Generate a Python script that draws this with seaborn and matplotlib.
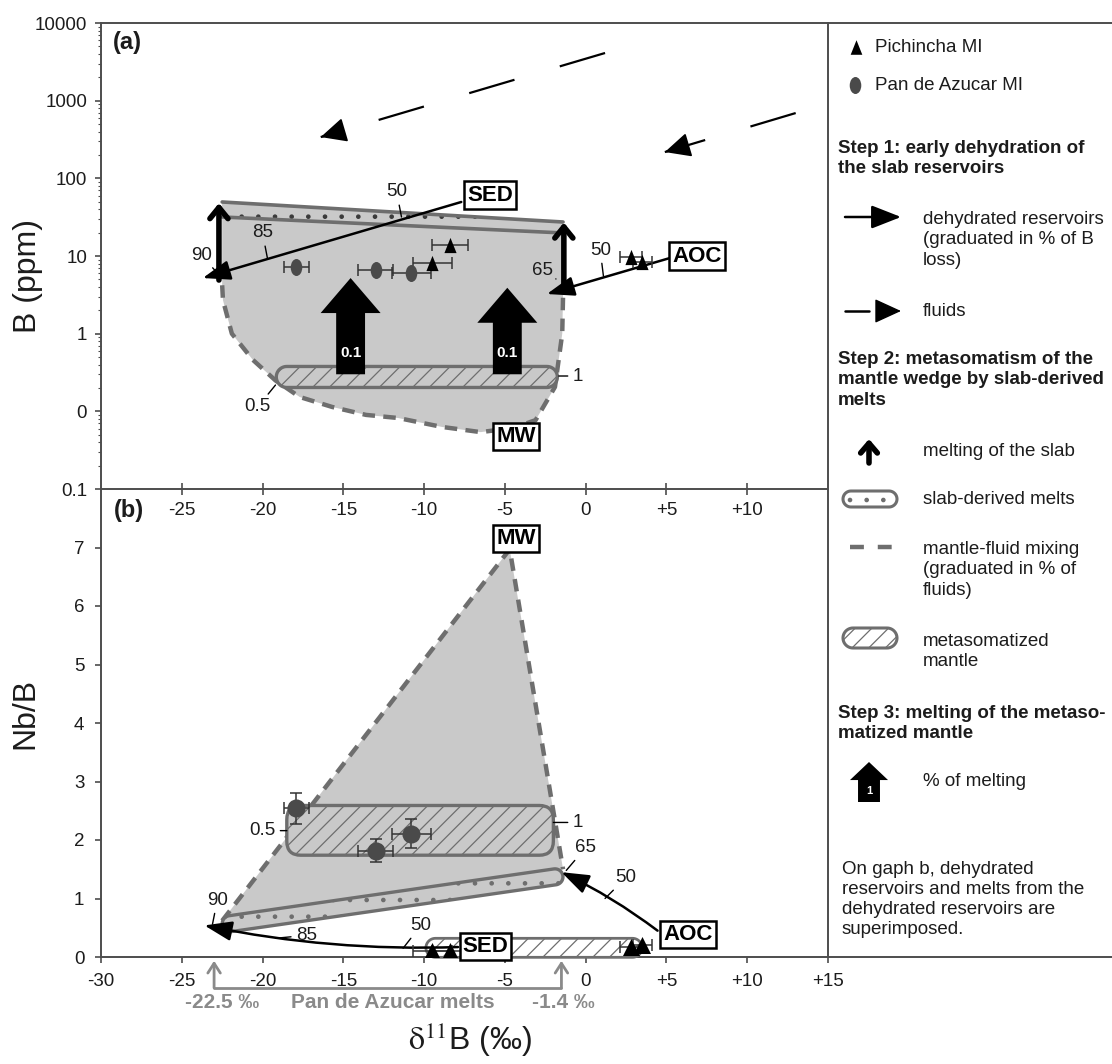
import numpy as np
import pandas as pd
import matplotlib
matplotlib.use("Agg")
import matplotlib.pyplot as plt
import seaborn as sns
from matplotlib.patches import FancyArrowPatch, FancyBboxPatch, Polygon
from matplotlib.transforms import IdentityTransform, Affine2D, blended_transform_factory
from matplotlib.markers import MarkerStyle
from matplotlib.ticker import LogLocator, NullFormatter

sns.set_theme(style="white")
plt.rcParams["font.family"] = ["Liberation Sans", "DejaVu Sans"]
plt.rcParams["lines.scale_dashes"] = False
plt.rcParams["hatch.linewidth"] = 0.9
plt.rcParams["mathtext.fontset"] = "stix"

# ---------------- data ----------------
d11b_ticks_a = [-25, -20, -15, -10, -5, 0, 5, 10]
d11b_ticks_b = [-30, -25, -20, -15, -10, -5, 0, 5, 10, 15]
b_ticks = [0.01, 0.1, 1, 10, 100, 1000, 10000]
b_tick_labels = ["0.1", "0", "1", "10", "100", "1000", "10000"]
nbb_ticks = [0, 1, 2, 3, 4, 5, 6, 7]

# melt inclusions
pich_d11b = [-9.5, -8.4, 2.8, 3.5]
pich_d11b_err = [1.2, 1.1, 0.7, 0.6]
pich_b = [8.1, 13.9, 9.7, 8.4]
pich_nbb = [0.11, 0.11, 0.17, 0.20]
pan_d11b = [-17.9, -13.0, -10.8]
pan_d11b_err = [0.8, 1.1, 1.2]
pan_b = [7.2, 6.6, 6.0]
pan_nbb = [2.54, 1.82, 2.11]
pan_nbb_err = [0.27, 0.20, 0.25]

melt_range = [-22.5, -1.4]          # Pan de Azucar melts, d11B
bracket_x = [-23.0, -1.5]

# panel a : model
slab_melt_top_a = [49.6, 27.4]
slab_melt_base_a = [31.8, 19.8]
slab_melting_x_a = [-22.7, -1.35]
slab_melting_from_a = [4.9, 3.65]
slab_melting_to_a = [48.0, 27.0]
mix_d11b_a = [-22.5, -22.45, -21.9, -20.6, -19.2, -17.7, -15.7, -13.6, -11.6,
              -8.9, -6.5, -4.5, -3.1, -1.9, -1.45, -1.4]
mix_b_a = [4.2, 2.7, 1.0, 0.46, 0.25, 0.153, 0.114, 0.09, 0.082,
           0.063, 0.054, 0.061, 0.077, 0.206, 1.0, 3.0]
meta_mantle_x_a = [-18.5, -2.4]
meta_mantle_b_a = 0.277
melting_pct_x_a = [-14.55, -4.85]
melting_pct_tail_a = 0.30
melting_pct_tip_a = [5.2, 3.9]
melting_pct_label_a = ["0.1", "0.1"]
sed_line_a = ([-7.7, -23.7], [49.6, 5.2])
aoc_line_a = ([5.2, -2.4], [9.4, 3.24])
fluid1_a = ([1.2, -16.4], [4110, 340])
fluid2_a = ([13.0, 4.9], [693, 218])
boxes_a = [("SED", -5.9, 61), ("AOC", 6.9, 10.0), ("MW", -4.3, 0.047)]
marks_a = [("50", -11.7, 66.7, -11.4, 31.8), ("85", -20.0, 19.8, -19.7, 9.4),
           ("90", -23.8, 10.3, -22.85, 6.2), ("50", 0.9, 11.9, 1.1, 5.5),
           ("65", -2.7, 6.6, -1.84, 5.06), ("0.5", -20.3, 0.114, -19.2, 0.218),
           ("1", -0.5, 0.285, -1.66, 0.285)]

# panel b : model
mw_b = (-4.7, 6.97)
mix_left_b = (-22.5, 0.62)
mix_right_b = (-1.4, 1.5)
slab_melt_x_b = [-22.0, -1.9]
slab_melt_y_b = [0.57, 1.37]
meta_mantle_x_b = [-18.5, -2.0]
meta_mantle_y_b = [1.74, 2.59]
dehy_melt_x_b = [-9.3, 2.9]
dehy_melt_y_b = 0.157
sed_line_b = ([-7.9, -23.6], [0.17, 0.54])
aoc_line_b = ([4.45, -1.5], [0.45, 1.45])
boxes_b = [("SED", -6.2, 0.18), ("AOC", 6.35, 0.39), ("MW", -4.3, 7.16)]
marks_b = [("90", -22.8, 0.97, -23.1, 0.56), ("85", -17.3, 0.37, -19.2, 0.32),
           ("50", -10.2, 0.54, -11.3, 0.15), ("50", 2.5, 1.36, 1.2, 1.0),
           ("65", 0.0, 1.87, -1.2, 1.48), ("0.5", -20.0, 2.16, -18.5, 2.16),
           ("1", -0.5, 2.30, -2.0, 2.30)]

# ---------------- style ----------------
FILL = "#c9c9c9"
EDGE = "#6e6e6e"
AXIS = "#4d4d4d"
TXT = "#1c1c1c"
BRK = "#8a8a8a"
MI_GREY = "#4a4a4a"
tri_marker = MarkerStyle("^", transform=Affine2D().scale(0.8, 1.0))
ell_marker = MarkerStyle("o", transform=Affine2D().scale(0.68, 1.0))

W, H = 1112, 1064
fig = plt.figure(figsize=(W / 100, H / 100), dpi=100)


def px_axes(x0, y0, x1, y1):
    return fig.add_axes([x0 / W, 1 - y1 / H, (x1 - x0) / W, (y1 - y0) / H])


ax_a = px_axes(101, 23, 828, 489)
ax_b = px_axes(101, 489, 828, 957)
ax_l = px_axes(828, 23, 1112, 957)

for ax in (ax_a, ax_b, ax_l):
    for s in ax.spines.values():
        s.set_color(AXIS)
        s.set_linewidth(1.4)
    ax.spines["right"].set_visible(False)
ax_b.spines["top"].set_visible(False)
ax_b.patch.set_visible(False)


def sign_lab(v):
    return "0" if v == 0 else f"{v:+d}"


ax_a.set_yscale("log")
ax_a.set_xlim(-30, 15)
ax_a.set_ylim(b_ticks[0], b_ticks[-1])
ax_a.set_xticks(d11b_ticks_a, [sign_lab(v) for v in d11b_ticks_a])
ax_a.set_yticks(b_ticks, b_tick_labels)
ax_a.yaxis.set_minor_locator(LogLocator(base=10, subs=np.arange(2, 10)))
ax_a.yaxis.set_minor_formatter(NullFormatter())
ax_a.tick_params(axis="x", direction="inout", length=8, width=1.2, color=AXIS,
                 labelcolor=TXT, labelsize=13.5, pad=5.5, bottom=True)
ax_a.tick_params(axis="y", which="major", direction="out", length=4, width=1.2,
                 color=AXIS, labelcolor=TXT, labelsize=13.5, pad=6, left=True)
ax_a.tick_params(axis="y", which="minor", direction="out", length=2.5, width=0.8,
                 color=AXIS, left=True)

ax_b.set_xlim(-30, 15)
ax_b.set_ylim(0, 8)
ax_b.set_xticks(d11b_ticks_b, [sign_lab(v) for v in d11b_ticks_b])
ax_b.set_yticks(nbb_ticks)
ax_b.tick_params(axis="both", direction="out", length=4, width=1.2, color=AXIS,
                 labelcolor=TXT, labelsize=13.5, bottom=True, left=True)
ax_b.tick_params(axis="x", pad=7.5)
ax_b.tick_params(axis="y", pad=8)

ax_l.set_xlim(0, 284)
ax_l.set_ylim(934, 0)
ax_l.set_xticks([])
ax_l.set_yticks([])


# ---------------- helpers ----------------
def capsule(ax, p0, p1, r, **kw):
    a = ax.transData.transform(p0)
    b = ax.transData.transform(p1)
    ang = np.arctan2(b[1] - a[1], b[0] - a[0])
    ta = np.linspace(ang + np.pi / 2, ang + 3 * np.pi / 2, 24)
    tb = np.linspace(ang - np.pi / 2, ang + np.pi / 2, 24)
    pts = np.vstack([a + r * np.column_stack([np.cos(ta), np.sin(ta)]),
                     b + r * np.column_stack([np.cos(tb), np.sin(tb)])])
    ax.add_patch(Polygon(pts, closed=True, transform=IdentityTransform(),
                         clip_on=False, **kw))


def rounded_rect(ax, xs, ys, r, **kw):
    (x0, y0), (x1, y1) = ax.transData.transform([(xs[0], ys[0]), (xs[1], ys[1])])
    ax.add_patch(FancyBboxPatch((min(x0, x1), min(y0, y1)), abs(x1 - x0), abs(y1 - y0),
                                boxstyle=f"round,pad=0,rounding_size={r}",
                                transform=IdentityTransform(), **kw))


def back_point(ax, tip, start, dist):
    t = ax.transData.transform(tip)
    s = ax.transData.transform(start)
    u = (s - t) / np.hypot(*(s - t))
    return ax.transData.inverted().transform(t + dist * u)


def line_arrow(ax, xs, ys, rad=0.0, ms=12):
    ax.add_patch(FancyArrowPatch((xs[0], ys[0]), (xs[1], ys[1]),
                                 arrowstyle="-|>,head_length=1.4,head_width=0.5",
                                 connectionstyle=f"arc3,rad={rad}", mutation_scale=ms,
                                 color="black", lw=1.8, shrinkA=0, shrinkB=0, zorder=6))


def fluid_arrow(ax, xs, ys):
    ax.plot(xs, ys, color="black", lw=1.6, dashes=(34, 34), dash_capstyle="butt", zorder=5)
    bp = back_point(ax, (xs[1], ys[1]), (xs[0], ys[0]), 22)
    ax.add_patch(FancyArrowPatch(tuple(bp), (xs[1], ys[1]),
                                 arrowstyle="-|>,head_length=1.15,head_width=0.55",
                                 mutation_scale=14, color="black", lw=1.2,
                                 shrinkA=0, shrinkB=0, zorder=6))


def thick_arrow(ax, x, y0, y1):
    ax.add_patch(FancyArrowPatch((x, y0), (x, y1),
                                 arrowstyle="->,head_length=8,head_width=6.5",
                                 mutation_scale=1, color="black", lw=4,
                                 shrinkA=0, shrinkB=0, zorder=6))


def block_arrow(ax, x, y0, y1, tail, head, hl, scale):
    ax.add_patch(FancyArrowPatch((x, y0), (x, y1),
                                 arrowstyle=f"simple,head_length={hl},head_width={head},tail_width={tail}",
                                 mutation_scale=scale, color="black", lw=0,
                                 shrinkA=0, shrinkB=0, zorder=5))


def end_box(ax, name, x, y):
    ax.text(x, y, name, fontsize=16, fontweight="bold", color="black", ha="center",
            va="center", zorder=8,
            bbox=dict(boxstyle="square,pad=0.14", fc="white", ec="black", lw=1.8))


def mark(ax, text, tx, ty, lx, ly):
    ax.annotate(text, xy=(lx, ly), xytext=(tx, ty), fontsize=13.5, color=TXT,
                ha="center", va="center", zorder=8,
                arrowprops=dict(arrowstyle="-", lw=1.0, color="black",
                                shrinkA=1, shrinkB=0))


# ---------------- panel a ----------------
fill_x = [melt_range[0], melt_range[1]] + mix_d11b_a[::-1]
fill_y = [slab_melt_top_a[0], slab_melt_top_a[1]] + mix_b_a[::-1]
ax_a.fill(fill_x, fill_y, color=FILL, lw=0, zorder=1)
ax_a.add_patch(Polygon(list(zip([melt_range[0], melt_range[1], melt_range[1], melt_range[0]],
                                [slab_melt_top_a[0], slab_melt_top_a[1],
                                 slab_melt_base_a[1], slab_melt_base_a[0]])),
                       closed=True, fc=FILL, ec="#3a3a3a", lw=0, hatch=".", zorder=2))
ax_a.plot(melt_range, slab_melt_top_a, color=EDGE, lw=2.6, zorder=3)
ax_a.plot(melt_range, slab_melt_base_a, color=EDGE, lw=2.6, zorder=3)
ax_a.plot(mix_d11b_a, mix_b_a, color=EDGE, lw=3.2, dashes=(9, 6), zorder=3)

capsule(ax_a, (meta_mantle_x_a[0], meta_mantle_b_a), (meta_mantle_x_a[1], meta_mantle_b_a),
        10.5, fc=FILL, ec=EDGE, lw=2.4, hatch="//", zorder=3)

for x, tip, lab in zip(melting_pct_x_a, melting_pct_tip_a, melting_pct_label_a):
    block_arrow(ax_a, x, melting_pct_tail_a, tip, 1.04, 2.16, 1.26, 20)
    ax_a.text(x, 0.56, lab, color="white", fontsize=11, fontweight="bold",
              ha="center", va="center", zorder=7)

for x, y0, y1 in zip(slab_melting_x_a, slab_melting_from_a, slab_melting_to_a):
    thick_arrow(ax_a, x, y0, y1)

line_arrow(ax_a, *sed_line_a)
line_arrow(ax_a, *aoc_line_a)
fluid_arrow(ax_a, *fluid1_a)
fluid_arrow(ax_a, *fluid2_a)

ax_a.errorbar(pan_d11b, pan_b, xerr=pan_d11b_err, fmt="none", ecolor="#333333",
              elinewidth=1.1, capsize=4, capthick=1.1, zorder=6)
ax_a.errorbar(pich_d11b, pich_b, xerr=pich_d11b_err, fmt="none", ecolor="#333333",
              elinewidth=1.1, capsize=4, capthick=1.1, zorder=6)
pan_df = pd.DataFrame({"d11B": pan_d11b, "B": pan_b, "NbB": pan_nbb})
pich_df = pd.DataFrame({"d11B": pich_d11b, "B": pich_b, "NbB": pich_nbb})
sns.scatterplot(data=pan_df, x="d11B", y="B", marker=ell_marker, s=150, color=MI_GREY,
                linewidth=0, ax=ax_a, zorder=7, legend=False)
sns.scatterplot(data=pich_df, x="d11B", y="B", marker=tri_marker, s=120, color="black",
                linewidth=0, ax=ax_a, zorder=7, legend=False)
ax_a.set_xlabel("")
ax_a.set_ylabel("")

for name, x, y in boxes_a:
    end_box(ax_a, name, x, y)
for m in marks_a:
    mark(ax_a, *m)
ax_a.text(0.036, 0.958, "(a)", transform=ax_a.transAxes, fontsize=17,
          fontweight="bold", color=TXT, ha="center", va="center")

# ---------------- panel b ----------------
ax_b.fill([mw_b[0], mix_left_b[0], mix_right_b[0]], [mw_b[1], mix_left_b[1], mix_right_b[1]],
          color=FILL, lw=0, zorder=1)
ax_b.plot([mix_left_b[0], mw_b[0], mix_right_b[0]], [mix_left_b[1], mw_b[1], mix_right_b[1]],
          color=EDGE, lw=3.2, dashes=(9, 6), zorder=3)
capsule(ax_b, (slab_melt_x_b[0], slab_melt_y_b[0]), (slab_melt_x_b[1], slab_melt_y_b[1]),
        8, fc=FILL, ec=EDGE, lw=2.4, hatch=".", zorder=3)
rounded_rect(ax_b, meta_mantle_x_b, meta_mantle_y_b, 14,
             fc=FILL, ec=EDGE, lw=2.4, hatch="//", zorder=3)
capsule(ax_b, (dehy_melt_x_b[0], dehy_melt_y_b), (dehy_melt_x_b[1], dehy_melt_y_b),
        9.5, fc="white", ec=EDGE, lw=2.0, hatch="//", zorder=3)

line_arrow(ax_b, *sed_line_b, rad=-0.06)
line_arrow(ax_b, *aoc_line_b, rad=0.05)

ax_b.errorbar(pan_d11b, pan_nbb, xerr=pan_d11b_err, yerr=pan_nbb_err, fmt="none",
              ecolor="#333333", elinewidth=1.1, capsize=4, capthick=1.1, zorder=6)
ax_b.errorbar(pich_d11b, pich_nbb, xerr=pich_d11b_err, fmt="none", ecolor="#333333",
              elinewidth=1.1, capsize=4, capthick=1.1, zorder=6)
sns.scatterplot(data=pan_df, x="d11B", y="NbB", marker="o", s=170, color=MI_GREY,
                linewidth=0, ax=ax_b, zorder=7, legend=False)
sns.scatterplot(data=pich_df, x="d11B", y="NbB", marker="^", s=150, color="black",
                linewidth=0, ax=ax_b, zorder=7, legend=False)
ax_b.set_xlabel("")
ax_b.set_ylabel("")

for name, x, y in boxes_b:
    end_box(ax_b, name, x, y)
for m in marks_b:
    mark(ax_b, *m)
ax_b.text(0.039, 0.953, "(b)", transform=ax_b.transAxes, fontsize=17,
          fontweight="bold", color=TXT, ha="center", va="center")

# bracket of the Pan de Azucar melts range
tb = blended_transform_factory(ax_b.transData, ax_b.transAxes)
y_top, y_bot, y_txt = -0.008, -0.066, -0.098
ax_b.plot(bracket_x, [y_bot, y_bot], transform=tb, clip_on=False, color=BRK, lw=2)
for x in bracket_x:
    ax_b.annotate("", xy=(x, y_top), xytext=(x, y_bot), xycoords=tb, textcoords=tb,
                  arrowprops=dict(arrowstyle="->,head_length=7,head_width=4.5",
                                  mutation_scale=1, color=BRK, lw=2,
                                  shrinkA=0, shrinkB=0))
ax_b.text(melt_range[0], y_txt, f"{melt_range[0]:.1f} ‰", transform=tb, color=BRK,
          fontsize=15, fontweight="bold", ha="center", va="center")
ax_b.text(melt_range[1], y_txt, f"{melt_range[1]:.1f} ‰", transform=tb, color=BRK,
          fontsize=15, fontweight="bold", ha="center", va="center")
ax_b.text(np.mean(melt_range), y_txt, "Pan de Azucar melts", transform=tb, color=BRK,
          fontsize=15, fontweight="bold", ha="center", va="center")

# axis titles
fig.text(28 / W, 1 - 276 / H, "B (ppm)", rotation=90, fontsize=23, color=TXT,
         ha="center", va="center")
fig.text(25 / W, 1 - 713 / H, "Nb/B", rotation=90, fontsize=23, color=TXT,
         ha="center", va="center")
fig.text(470 / W, 1 - 1040 / H, r"$\mathrm{\delta}^{11}$B (‰)", fontsize=23, color=TXT,
         ha="center", va="center")

# ---------------- legend panel ----------------
lt = dict(fontsize=13.5, color=TXT, ha="left", va="center", linespacing=1.25)
lb = dict(lt, fontweight="bold")
ax_l.scatter([28], [24], marker=tri_marker, s=110, color="black", lw=0)
ax_l.text(47, 24, "Pichincha MI", **lt)
ax_l.scatter([27], [62], marker=ell_marker, s=150, color=MI_GREY, lw=0)
ax_l.text(47, 62, "Pan de Azucar MI", **lt)

ax_l.text(10, 135.5, "Step 1: early dehydration of\nthe slab reservoirs", **lb)
ax_l.add_patch(FancyArrowPatch((17, 194), (73, 194),
                               arrowstyle="-|>,head_length=1.4,head_width=0.55",
                               mutation_scale=13, color="black", lw=1.8, shrinkA=0, shrinkB=0))
ax_l.text(95, 217, "dehydrated reservoirs\n(graduated in % of B\nloss)", **lt)
ax_l.plot([17, 41], [288, 288], color="black", lw=1.8)
ax_l.add_patch(FancyArrowPatch((55, 288), (73, 288),
                               arrowstyle="-|>,head_length=1.2,head_width=0.55",
                               mutation_scale=14, color="black", lw=1.0, shrinkA=0, shrinkB=0))
ax_l.text(95, 288, "fluids", **lt)

ax_l.text(10, 357, "Step 2: metasomatism of the\nmantle wedge by slab-derived\nmelts", **lb)
ax_l.add_patch(FancyArrowPatch((41, 440), (41, 416),
                               arrowstyle="->,head_length=7,head_width=6",
                               mutation_scale=1, color="black", lw=4, shrinkA=0, shrinkB=0))
ax_l.text(95, 429, "melting of the slab", **lt)
capsule(ax_l, (23, 476), (61, 476), 8, fc="white", ec=EDGE, lw=2.2, hatch=".")
ax_l.text(95, 476, "slab-derived melts", **lt)
ax_l.plot([22, 64], [524, 524], color=EDGE, lw=3.2, dashes=(10, 10))
ax_l.text(95, 547, "mantle-fluid mixing\n(graduated in % of\nfluids)", **lt)
capsule(ax_l, (25, 615), (59, 615), 10, fc="white", ec=EDGE, lw=2.2, hatch="//")
ax_l.text(95, 628.5, "metasomatized\nmantle", **lt)

ax_l.text(10, 700.5, "Step 3: melting of the metaso-\nmatized mantle", **lb)
ax_l.add_patch(FancyArrowPatch((41, 779), (41, 739),
                               arrowstyle="simple,head_length=0.65,head_width=1.37,tail_width=0.79",
                               mutation_scale=20, color="black", lw=0, shrinkA=0, shrinkB=0))
ax_l.text(41, 768, "1", color="white", fontsize=8, fontweight="bold", ha="center", va="center")
ax_l.text(95, 759, "% of melting", **lt)
ax_l.text(14, 876.5, "On gaph b, dehydrated\nreservoirs and melts from the\n"
          "dehydrated reservoirs are\nsuperimposed.", **lt)

fig.savefig("out.png", dpi=100)
